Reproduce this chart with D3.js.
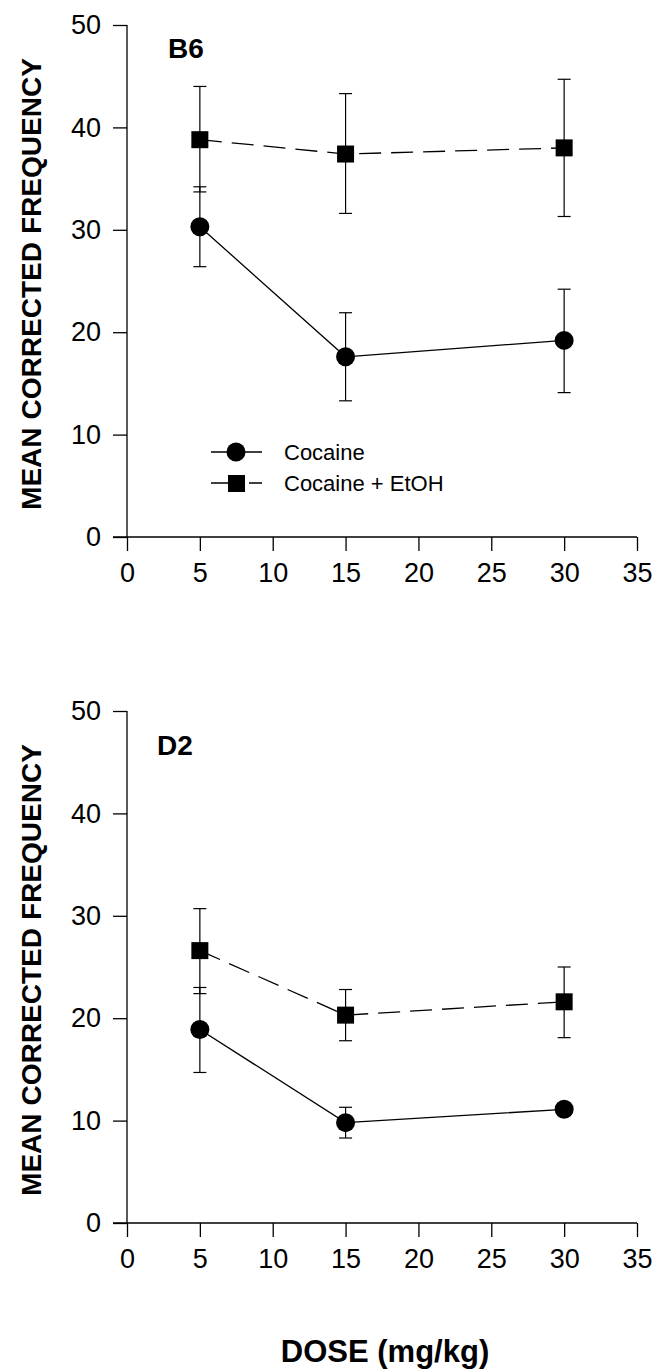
<!DOCTYPE html>
<html>
<head>
<meta charset="utf-8">
<script src="https://cdn.jsdelivr.net/npm/d3@7"></script>
<style>
  body { margin: 0; background: #fff; }
  svg { font-family: "Liberation Sans", Arial, sans-serif; }
</style>
</head>
<body>
<div id="chart"></div>
<script>
const doses = [5, 15, 30];
const xTicks = [0, 5, 10, 15, 20, 25, 30, 35];
const yTicks = [0, 10, 20, 30, 40, 50];

// B6 panel
const b6Cocaine = [30.3, 17.6, 19.2];
const b6CocaineUpper = [34.2, 21.9, 24.2];
const b6CocaineLower = [26.4, 13.3, 14.1];
const b6Etoh = [38.8, 37.4, 38.0];
const b6EtohUpper = [44.0, 43.3, 44.7];
const b6EtohLower = [33.7, 31.6, 31.3];

// D2 panel
const d2Cocaine = [18.9, 9.8, 11.1];
const d2CocaineUpper = [23.0, 11.3, 11.5];
const d2CocaineLower = [14.7, 8.3, 10.7];
const d2Etoh = [26.6, 20.3, 21.6];
const d2EtohUpper = [30.7, 22.8, 25.0];
const d2EtohLower = [22.4, 17.8, 18.1];

const W = 669, H = 1372;
const svg = d3.select("#chart").append("svg")
    .attr("width", W)
    .attr("height", H);

const x = d3.scaleLinear().domain([0, 35]).range([127, 637]);

function series(mean, upper, lower) {
    return doses.map((d, i) => ({ dose: d, mean: mean[i], upper: upper[i], lower: lower[i] }));
}

function drawPanel(top, label, labelPos, coc, etoh, showLegend) {
    const y = d3.scaleLinear().domain([0, 50]).range([top + 512, top]);
    const g = svg.append("g");

    g.append("g")
        .attr("transform", `translate(127,0)`)
        .call(d3.axisLeft(y).tickValues(yTicks).tickSize(14).tickPadding(12))
        .call(a => a.select(".domain").remove())
        .call(a => a.selectAll("text").style("font-size", "27px").attr("fill", "#000"));
    g.append("line")
        .attr("x1", 127).attr("x2", 127)
        .attr("y1", y(50)).attr("y2", y(0))
        .attr("stroke", "#000").attr("stroke-width", 1.3);

    g.append("g")
        .attr("transform", `translate(0,${y(0)})`)
        .call(d3.axisBottom(x).tickValues(xTicks).tickSize(14).tickPadding(12))
        .call(a => a.select(".domain").remove())
        .call(a => a.selectAll("text").style("font-size", "27px").attr("fill", "#000"));
    g.append("line")
        .attr("x1", 113).attr("x2", x(35))
        .attr("y1", y(0)).attr("y2", y(0))
        .attr("stroke", "#000").attr("stroke-width", 1.3);
    g.selectAll(".tick line").attr("stroke", "#000").attr("stroke-width", 1.3);

    g.append("text")
        .attr("x", labelPos[0]).attr("y", top + labelPos[1])
        .style("font-size", "28px").style("font-weight", "bold")
        .text(label);

    g.append("text")
        .attr("transform", `translate(41,${y(25) + 3}) rotate(-90)`)
        .attr("text-anchor", "middle")
        .style("font-size", "28px").style("font-weight", "bold")
        .attr("textLength", 452).attr("lengthAdjust", "spacingAndGlyphs")
        .text("MEAN CORRECTED FREQUENCY");

    const line = d3.line().x(d => x(d.dose)).y(d => y(d.mean));

    [coc, etoh].forEach(s => {
        const eb = g.append("g").selectAll("g").data(s).join("g");
        eb.append("line")
            .attr("x1", d => x(d.dose)).attr("x2", d => x(d.dose))
            .attr("y1", d => y(d.upper)).attr("y2", d => y(d.lower))
            .attr("stroke", "#000").attr("stroke-width", 1.2);
        eb.append("line")
            .attr("x1", d => x(d.dose) - 6.5).attr("x2", d => x(d.dose) + 6.5)
            .attr("y1", d => y(d.upper)).attr("y2", d => y(d.upper))
            .attr("stroke", "#000").attr("stroke-width", 1.2);
        eb.append("line")
            .attr("x1", d => x(d.dose) - 6.5).attr("x2", d => x(d.dose) + 6.5)
            .attr("y1", d => y(d.lower)).attr("y2", d => y(d.lower))
            .attr("stroke", "#000").attr("stroke-width", 1.2);
    });

    g.append("path").datum(coc)
        .attr("d", line).attr("fill", "none")
        .attr("stroke", "#000").attr("stroke-width", 1.3);
    g.append("path").datum(etoh)
        .attr("d", line).attr("fill", "none")
        .attr("stroke", "#000").attr("stroke-width", 1.3)
        .attr("stroke-dasharray", "22,10");

    g.selectAll(".dot").data(coc).join("circle")
        .attr("cx", d => x(d.dose)).attr("cy", d => y(d.mean))
        .attr("r", 9.5).attr("fill", "#000");
    g.selectAll(".sq").data(etoh).join("rect")
        .attr("x", d => x(d.dose) - 8.5).attr("y", d => y(d.mean) - 8.5)
        .attr("width", 17).attr("height", 17).attr("fill", "#000");

    if (showLegend) {
        const lg = g.append("g");
        lg.append("line").attr("x1", 211).attr("x2", 262).attr("y1", top + 427).attr("y2", top + 427)
            .attr("stroke", "#000").attr("stroke-width", 1.3);
        lg.append("circle").attr("cx", 236).attr("cy", top + 427).attr("r", 9.5).attr("fill", "#000");
        lg.append("text").attr("x", 284).attr("y", top + 435)
            .style("font-size", "22px").text("Cocaine");
        lg.append("line").attr("x1", 211).attr("x2", 262).attr("y1", top + 458).attr("y2", top + 458)
            .attr("stroke", "#000").attr("stroke-width", 1.3).attr("stroke-dasharray", "17,21,13");
        lg.append("rect").attr("x", 228).attr("y", top + 450).attr("width", 17).attr("height", 17).attr("fill", "#000");
        lg.append("text").attr("x", 284).attr("y", top + 466)
            .style("font-size", "22px").text("Cocaine + EtOH");
    }
}

drawPanel(25, "B6", [168, 33], series(b6Cocaine, b6CocaineUpper, b6CocaineLower),
    series(b6Etoh, b6EtohUpper, b6EtohLower), true);
drawPanel(711, "D2", [157, 44], series(d2Cocaine, d2CocaineUpper, d2CocaineLower),
    series(d2Etoh, d2EtohUpper, d2EtohLower), false);

svg.append("text")
    .attr("x", 385).attr("y", 1362)
    .attr("text-anchor", "middle")
    .style("font-size", "31px").style("font-weight", "bold")
    .text("DOSE (mg/kg)");
</script>
</body>
</html>
